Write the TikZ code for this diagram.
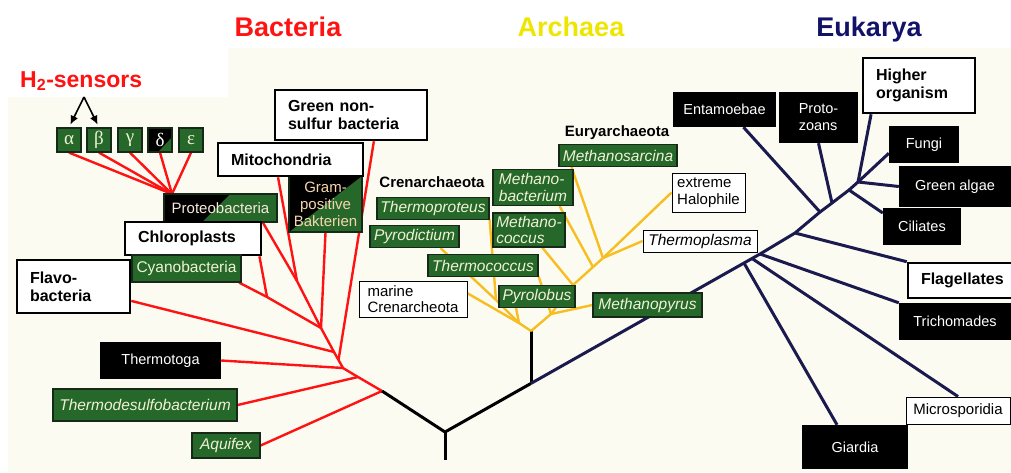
\documentclass[tikz,border=0pt]{standalone}
\usepackage{fontspec}
\setmainfont{Liberation Sans}
\newfontfamily\greekfont{Liberation Serif}
\usepackage{xcolor}
\usetikzlibrary{arrows.meta}
\definecolor{cream}{RGB}{252,251,242}
\definecolor{leaf}{RGB}{38,104,42}
\definecolor{leafedge}{RGB}{22,40,24}
\definecolor{pale}{RGB}{240,242,214}
\definecolor{rose}{RGB}{250,232,220}
\definecolor{peach}{RGB}{246,214,176}
\definecolor{bacred}{RGB}{255,18,18}
\definecolor{arcyellow}{RGB}{246,190,32}
\definecolor{arctitle}{RGB}{238,230,0}
\definecolor{navy}{RGB}{18,18,104}
\definecolor{eukline}{RGB}{26,26,78}
\pgfdeclarelayer{bg}
\pgfdeclarelayer{lines}
\pgfsetlayers{bg,lines,main}

\begin{document}
\begin{tikzpicture}[x=1pt,y=-1pt,>={Latex[length=9pt,width=8pt]},
  dims/.style 2 args={minimum width=#1pt,minimum height=#2pt},
  labdims/.style 2 args={text width=#1pt,minimum height=#2pt},
  title/.style={font=\fontsize{27}{29}\selectfont\bfseries,anchor=base,inner sep=0pt},
  group/.style={font=\fontsize{15}{16}\selectfont\bfseries,inner sep=0pt},
  labelbox/.style={draw=black,line width=2.6pt,fill=white,align=left,font=\fontsize{16}{18}\selectfont\bfseries,inner xsep=13pt,inner ysep=2pt},
  plainbox/.style={draw=black,line width=1pt,fill=white,align=left,font=\fontsize{15}{16.5}\selectfont,inner sep=1pt},
  greenbox/.style={draw=leafedge,line width=1.2pt,fill=leaf,text=pale,align=left,font=\fontsize{15.5}{16.5}\selectfont\itshape,inner sep=1pt},
  blackbox/.style={fill=black,text=white,align=left,font=\fontsize{14.5}{17}\selectfont,inner sep=1pt},
  greekbox/.style={greenbox,font=\fontsize{19}{19}\selectfont\greekfont,dims={24}{24}},
  bac/.style={bacred,line width=2.4pt,line join=round},
  arc/.style={arcyellow,line width=2.4pt,line join=round},
  stem/.style={black,line width=3pt,line join=round},
  euk/.style={eukline,line width=3pt,line join=round}]
\useasboundingbox (0,0) rectangle (1011,472);
\begin{pgfonlayer}{bg}
\fill[cream] (8,48) rectangle (1011,472);
\fill[white] (8,48) rectangle (228,97);
\end{pgfonlayer}

\node[title,text=bacred] (bactitle) at (288,36) {Bacteria};
\node[title,text=arctitle] (arctitle) at (571,36) {Archaea};
\node[title,text=navy] (euktitle) at (869,36) {Eukarya};
\node[font=\fontsize{23}{24}\selectfont\bfseries,text=bacred,anchor=base west,inner sep=0pt] (hsens) at (20,87) {H\textsubscript{2}-sensors};

\node[greekbox] (alpha) at (69,140) {α};
\node[greekbox] (beta) at (99,140) {β};
\node[greekbox] (gamma) at (130,140) {γ};
\node[greekbox,text=white,path picture={\fill[black] (path picture bounding box.north west) -- (path picture bounding box.north east) -- ([yshift=-9pt]path picture bounding box.north east) -- ([xshift=10pt]path picture bounding box.south west) -- (path picture bounding box.south west) -- cycle;}] (delta) at (160,140) {δ};
\node[greekbox] (eps) at (191,140) {ε};

\node[greenbox,font=\fontsize{15}{16}\selectfont,text=rose,dims={113}{28},path picture={\fill[black] (path picture bounding box.north west) -- ([xshift=66pt]path picture bounding box.north west) -- ([xshift=38pt]path picture bounding box.south west) -- (path picture bounding box.south west) -- cycle;}] (proteo) at (220.5,208) {Proteobacteria};
\node[greenbox,font=\fontsize{15}{17}\selectfont,text=peach,align=center,dims={73}{56},path picture={\fill[black] (path picture bounding box.north west) -- (path picture bounding box.north east) -- (path picture bounding box.south west) -- cycle;}] (gram) at (325.5,204) {Gram-\\positive\\Bakterien};
\node[labelbox,labdims={126}{50}] (gns) at (351,115) {Green non-\\sulfur bacteria};
\node[labelbox,labdims={119}{33}] (mito) at (290.5,159.5) {Mitochondria};
\node[labelbox,labdims={110}{33}] (chloro) at (193,238.5) {Chloroplasts};
\node[greenbox,font=\fontsize{15.5}{16}\selectfont,dims={109}{27}] (cyano) at (186.5,268.5) {Cyanobacteria};
\node[labelbox,labdims={87}{53}] (flavo) at (73.5,286.5) {Flavo-\\bacteria};
\node[blackbox,dims={121}{37}] (thermotoga) at (160.5,360.5) {Thermotoga};
\node[greenbox,dims={184}{32}] (thermodesulfo) at (145,405) {Thermodesulfobacterium};
\node[greenbox,dims={68}{25}] (aquifex) at (226,445.5) {Aquifex};

\node[group] (cren) at (432,182) {Crenarchaeota};
\node[group] (eury) at (617,133) {Euryarchaeota};
\node[greenbox,dims={112}{22}] (thermoproteus) at (433,208.5) {Thermoproteus};
\node[greenbox,dims={89}{22}] (pyrodictium) at (414.5,236.5) {Pyrodictium};
\node[greenbox,dims={110}{22}] (thermococcus) at (483,265.5) {Thermococcus};
\node[plainbox,dims={108}{36}] (marine) at (413,299) {marine\\Crenarcheota};
\node[greenbox,dims={76}{22}] (pyrolobus) at (537,296.5) {Pyrolobus};
\node[greenbox,dims={109}{24}] (methanopyrus) at (647.5,305) {Methanopyrus};
\node[greenbox,dims={80}{36}] (methanobacterium) at (533,187.5) {Methano-\\bacterium};
\node[greenbox,dims={72}{34}] (methanococcus) at (529,230) {Methano-\\coccus};
\node[greenbox,dims={118}{22}] (methanosarcina) at (618,155.5) {Methanosarcina};
\node[plainbox,dims={73}{39}] (halophile) at (708.5,192.5) {extreme\\Halophile};
\node[plainbox,font=\fontsize{15.5}{16}\selectfont\itshape,dims={114}{22}] (thermoplasma) at (700,241) {Thermoplasma};

\node[blackbox,dims={103}{35}] (ent) at (724.5,109.5) {Entamoebae};
\node[blackbox,dims={79}{51}] (proto) at (818.5,117.5) {Proto-\\zoans};
\node[labelbox,labdims={86}{55}] (higher) at (919,85.5) {Higher\\organism};
\node[blackbox,dims={70}{37}] (fungi) at (924,144.5) {Fungi};
\node[blackbox,dims={112}{41}] (galgae) at (955,186.5) {Green algae};
\node[blackbox,dims={78}{37}] (cil) at (922,226.5) {Ciliates};
\node[labelbox,labdims={84}{35}] (flag) at (963,280.5) {Flagellates};
\node[blackbox,dims={112}{37}] (trich) at (955,321.5) {Trichomades};
\node[plainbox,dims={104}{27}] (micro) at (958,410.5) {Microsporidia};
\node[blackbox,dims={106}{44}] (giardia) at (855,447) {Giardia};

\coordinate (hfork) at (84,97);
\coordinate (root) at (445,432);
\coordinate (rootend) at (445,460);
\coordinate (aBase) at (531,383.4);
\coordinate (aRoot) at (531,331);
\coordinate (bJ0) at (382,391);
\coordinate (bJ1) at (358,377);
\coordinate (bJ2) at (343,368);
\coordinate (bJ3) at (338.5,360);
\coordinate (bJ3b) at (334,352);
\coordinate (bJ4) at (321,328);
\coordinate (bPM) at (297,281);
\coordinate (bCC) at (267,297);
\coordinate (bH2) at (172,194);
\coordinate (cJ1) at (496,300);
\coordinate (cJ2) at (519,323);
\coordinate (eJ1) at (551,314);
\coordinate (eJ2) at (573,285);
\coordinate (eJ3) at (593,267);
\coordinate (eJ4) at (603,258);
\coordinate (kGia) at (744,263);
\coordinate (kMic) at (752,258.5);
\coordinate (kTri) at (760,254);
\coordinate (kFla) at (795,233);
\coordinate (kEnt) at (820,212);
\coordinate (kPro) at (832,203);
\coordinate (kCil) at (849,190);
\coordinate (kTop) at (858,182);

\draw[->,line width=1.6pt,shorten >=3pt] (hfork) -- (alpha.north);
\draw[->,line width=1.6pt,shorten >=3pt] (hfork) -- (beta.north);

\begin{pgfonlayer}{lines}
\foreach \g in {alpha,beta,gamma,delta,eps}
  \draw[bac] (\g.south) -- (bH2);
\draw[bac] (proteo.-19) -- (bPM) -- (bJ4);
\draw[bac] (mito.-125) -- (bPM);
\draw[bac] (chloro.-15) -- (bCC);
\draw[bac] (cyano.-15) -- (bCC) -- (bJ4);
\draw[bac] (gram.south) -- (bJ4);
\draw[bac] (bJ4) -- (bJ3b) -- (bJ3) -- (bJ2) -- (bJ1) -- (bJ0);
\draw[bac] (flavo.-14) -- (bJ3b);
\draw[bac] (gns.-49) -- (bJ3);
\draw[bac] (thermotoga.east) -- (bJ2);
\draw[bac] (thermodesulfo.east) -- (bJ1);
\draw[bac] (aquifex.east) -- (bJ0);

\draw[stem] (bJ0) -- (root) -- (aBase);
\draw[stem] (root) -- (rootend);
\draw[stem] (aRoot) -- (aBase);

\draw[arc] (aRoot) -- (cJ2) -- (cJ1);
\draw[arc] (thermoproteus.-11.4) -- (cJ1);
\draw[arc] (pyrodictium.-24) -- (cJ1);
\draw[arc] (marine.6) -- (cJ2);
\draw[arc] (pyrolobus.-151) -- (cJ2);
\draw[arc] (aRoot) -- (eJ1) -- (eJ2) -- (eJ3) -- (eJ4);
\draw[arc] (methanopyrus.west) -- (eJ1);
\draw[arc] (thermococcus.-11.4) -- (eJ1);
\draw[arc] (methanococcus.-53) -- (eJ2);
\draw[arc] (methanobacterium.-35) -- (eJ3);
\draw[arc] (methanosarcina.-166) -- (eJ4);
\draw[arc] (halophile.west) -- (eJ4);
\draw[arc] (thermoplasma.west) -- (eJ4);

\draw[euk] (aBase) -- (kGia) -- (kMic) -- (kTri) -- (kFla) -- (kEnt) -- (kPro) -- (kCil) -- (kTop);
\draw[euk] (giardia.129) -- (kGia);
\draw[euk] (micro.north) -- (kMic);
\draw[euk] (trich.north west) -- (kTri);
\draw[euk] (flag.north west) -- (kFla);
\draw[euk] (ent.-43) -- (kEnt);
\draw[euk] (proto.south) -- (kPro);
\draw[euk] (cil.161) -- (kCil);
\draw[euk] (fungi.-166) -- (kTop);
\draw[euk] (galgae.west) -- (kTop);
\draw[euk] (higher.-149) -- (kTop);
\end{pgfonlayer}
\end{tikzpicture}
\end{document}
